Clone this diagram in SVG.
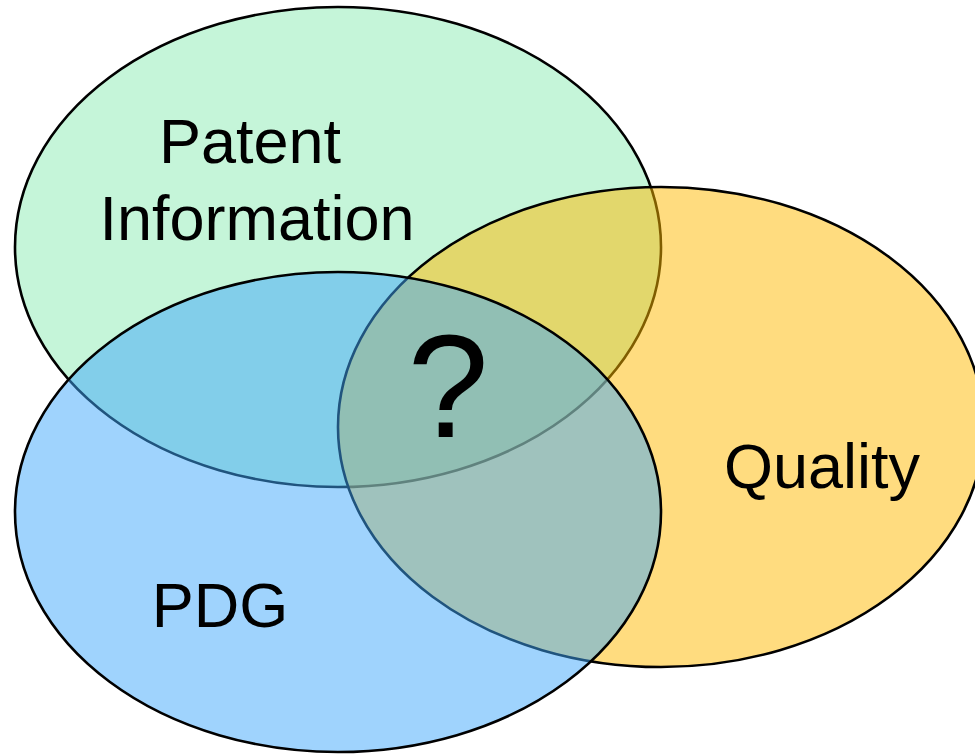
<svg xmlns="http://www.w3.org/2000/svg" width="975" height="754" viewBox="0 0 975 754">
<style>
.e{stroke:#000;stroke-width:2.6}
.t{font-family:"Liberation Sans",Arial,sans-serif;fill:#000;text-anchor:middle}
</style>
<rect width="975" height="754" fill="#fff"/>
<g id="patent">
<ellipse class="e" cx="338" cy="247" rx="323" ry="240" fill="#C5F5D9"/>
</g>
<g id="quality">
<ellipse class="e" cx="661" cy="427" rx="323" ry="240" fill="rgb(255,185,0)" fill-opacity="0.5"/>
</g>
<g id="pdg">
<ellipse class="e" cx="338" cy="512" rx="323" ry="240" fill="rgb(63,167,251)" fill-opacity="0.5"/>
</g>
<g id="labels">
<text class="t" x="250" y="163" font-size="63">Patent</text>
<text class="t" x="257" y="240" font-size="63">Information</text>
<text class="t" x="822" y="488" font-size="63">Quality</text>
<text class="t" x="220" y="627" font-size="63">PDG</text>
<text class="t" x="448" y="437" font-size="146">?</text>
</g>
<g id="connectors"/>
</svg>
